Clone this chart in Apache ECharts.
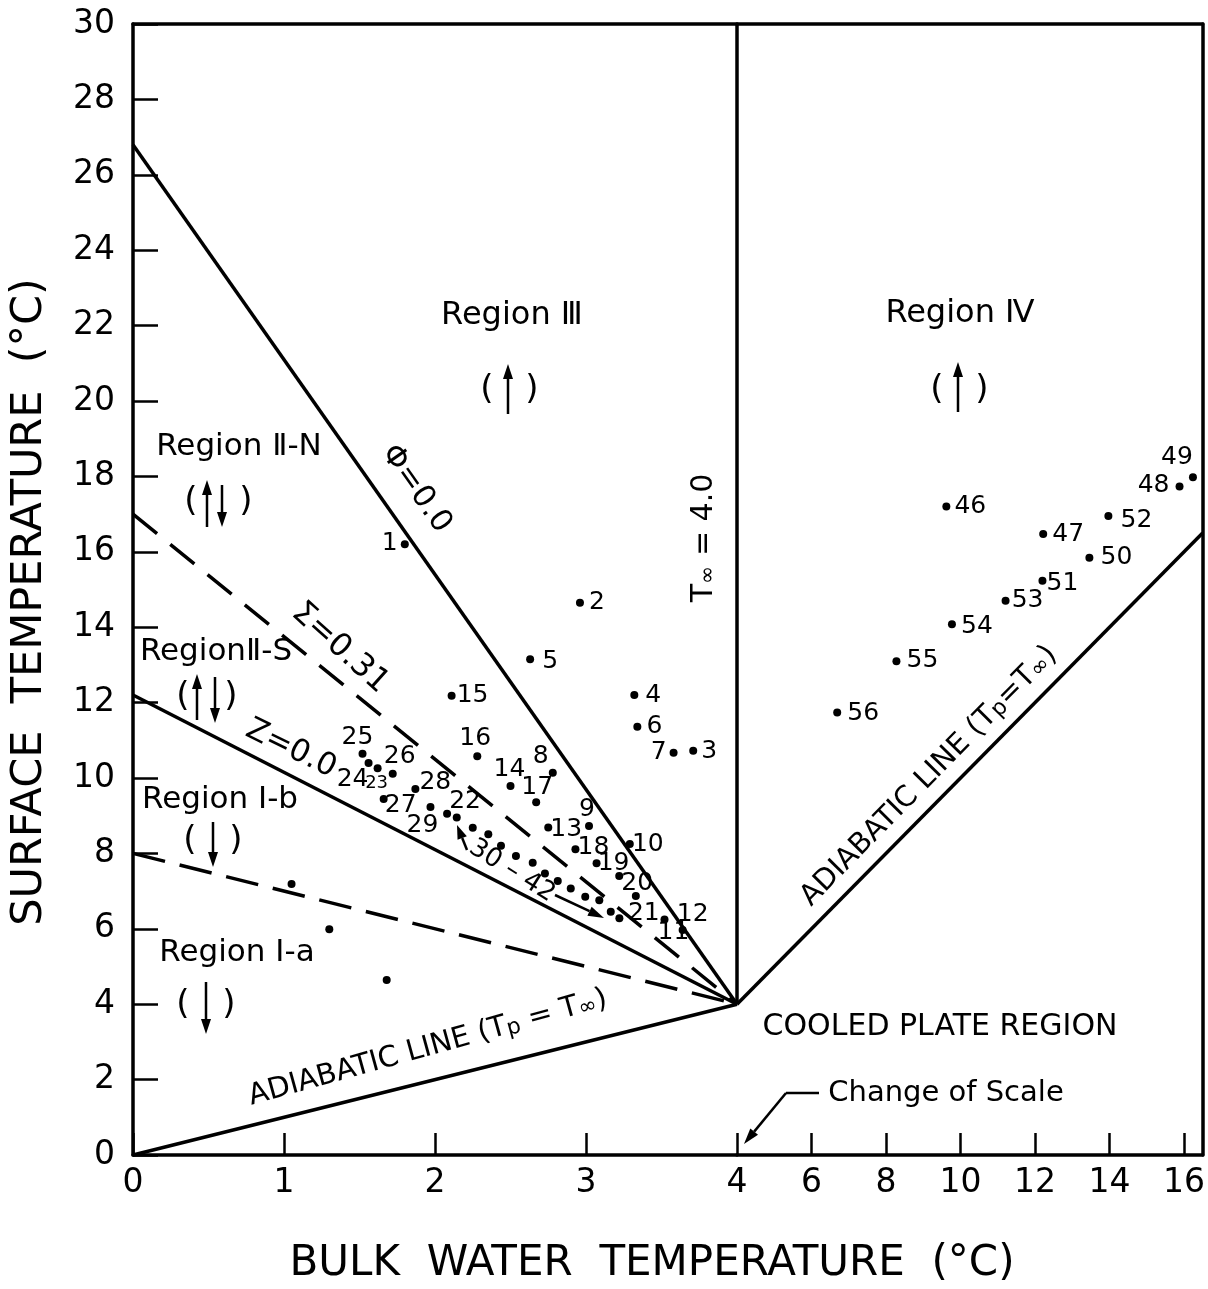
<!DOCTYPE html>
<html>
<head>
<meta charset="utf-8">
<title>Surface vs bulk water temperature</title>
<script src="https://cdn.jsdelivr.net/npm/echarts@6/dist/echarts.min.js"></script>
<style>
  html, body { margin: 0; padding: 0; background: #ffffff; }
  #chart { width: 1208px; height: 1289px; }
</style>
</head>
<body>
<div id="chart"></div>
<script>
// ---- Data ---------------------------------------------------------------
// Boundary lines, [bulk water temperature, surface temperature] in °C
const phiZeroLine   = [[0, 26.8], [4, 4]];
const sigmaLine     = [[0, 17.0], [4, 4]];
const zZeroLine     = [[0, 12.2], [4, 4]];
const regionIbLine  = [[0, 8.0], [4, 4]];
const adiabaticLow  = [[0, 0], [4, 4]];
const tInfinityLine = [[4, 4], [4, 30]];
const adiabaticHigh = [[4, 4], [16.5, 16.5]];

// Numbered runs below the density maximum: [run, bulk °C, surface °C]
const runsLow = [
  [1, 1.80, 16.20], [2, 2.96, 14.65], [3, 3.71, 10.72], [4, 3.32, 12.20],
  [5, 2.63, 13.15], [6, 3.34, 11.36], [7, 3.58, 10.67], [8, 2.78, 10.14],
  [9, 3.02, 8.73],  [10, 3.29, 8.25], [11, 3.52, 6.25], [12, 3.64, 5.97],
  [13, 2.75, 8.69], [14, 2.50, 9.79], [15, 2.11, 12.18], [16, 2.28, 10.58],
  [17, 2.67, 9.36], [18, 2.93, 8.11], [19, 3.07, 7.74], [20, 3.22, 7.40],
  [21, 3.33, 6.87], [22, 2.08, 9.05], [23, 1.62, 10.26], [24, 1.56, 10.40],
  [25, 1.52, 10.64], [26, 1.72, 10.11], [27, 1.66, 9.44], [28, 1.87, 9.71],
  [29, 1.97, 9.23]
];
// Runs 30 to 42 (unlabelled sequence)
const runs30to42 = [
  [30, 2.144, 8.95], [31, 2.250, 8.68], [32, 2.353, 8.51], [33, 2.437, 8.20],
  [34, 2.536, 7.93], [35, 2.647, 7.75], [36, 2.728, 7.47], [37, 2.813, 7.27],
  [38, 2.899, 7.07], [39, 2.995, 6.85], [40, 3.088, 6.76], [41, 3.164, 6.45],
  [42, 3.221, 6.28]
];
// Unnumbered runs in Region I-a / I-b
const regionIRuns = [[1.05, 7.19], [1.30, 5.99], [1.68, 4.64]];
// Runs above 4 °C (compressed scale)
const runsHigh = [
  [46, 9.62, 17.20], [47, 12.22, 16.47], [48, 15.88, 17.73], [49, 16.24, 17.98],
  [50, 13.46, 15.84], [51, 12.20, 15.23], [52, 13.97, 16.95], [53, 11.21, 14.70],
  [54, 9.77, 14.08], [55, 8.28, 13.10], [56, 6.69, 11.74]
];

// ---- Styling --------------------------------------------------------------
const FONT = "'DejaVu Sans', 'Liberation Sans', sans-serif";
const INK = '#000000';
const LINE_W = 3.5;

// Where each run number sits relative to its dot (px)
const labelShift = {
  1: [-15, -1], 2: [17, 0], 3: [16, 1], 4: [19, 0], 5: [20, 2], 6: [17, 0],
  7: [-15, 0], 8: [-12, -16], 9: [-2, -16], 10: [18, 1], 11: [9, 13], 12: [10, -15],
  13: [18, 2], 14: [-1, -16], 15: [21, 0], 16: [-2, -18], 17: [1, -15], 18: [18, -2],
  19: [17, 0], 20: [18, 7], 21: [8, 17], 22: [18, -12], 23: [-1, 15], 24: [-16, 17],
  25: [-5, -16], 26: [7, -17], 27: [17, 6], 28: [20, -6], 29: [-8, 18],
  46: [24, 0], 47: [25, 0], 48: [-26, -1], 49: [-16, -20], 50: [27, 0], 51: [20, 3],
  52: [28, 5], 53: [22, 0], 54: [25, 2], 55: [26, -1], 56: [26, 1]
};

function labelledPoints(runs) {
  return runs.map(([id, x, t]) => ({
    value: [x, t],
    label: {
      show: true,
      formatter: String(id),
      position: 'inside',
      offset: labelShift[id] || [18, 0],
      color: INK,
      opacity: 1,
      fontFamily: FONT,
      fontSize: id === 23 ? 18 : 25
    }
  }));
}

function boundary(data, xi, dashed) {
  return {
    type: 'line', xAxisIndex: xi, yAxisIndex: xi, data,
    symbol: 'none', clip: false, silent: true,
    lineStyle: { color: INK, width: LINE_W, type: dashed || 'solid', cap: 'butt', opacity: 1 },
    z: 3
  };
}

function dots(data, xi) {
  return {
    type: 'scatter', xAxisIndex: xi, yAxisIndex: xi, data,
    symbol: 'circle', symbolSize: 8, clip: false, silent: true,
    itemStyle: { color: INK, opacity: 1 }, z: 4
  };
}

// ---- Annotations ------------------------------------------------------------
const graphics = [];
function txt(x, y, text, size, rotDeg, rich) {
  const style = {
    text, fill: INK, fontSize: size, fontFamily: FONT,
    align: 'center', verticalAlign: 'middle'
  };
  if (rich) style.rich = rich;
  graphics.push({ type: 'text', x, y, rotation: (rotDeg || 0) * Math.PI / 180, style, z: 10 });
}
function arrow(x1, y1, x2, y2, head, halfW) {
  head = head || 15; halfW = halfW || 5;
  const a = Math.atan2(y2 - y1, x2 - x1);
  const bx = x2 - head * Math.cos(a), by = y2 - head * Math.sin(a);
  const px = -Math.sin(a) * halfW, py = Math.cos(a) * halfW;
  graphics.push({ type: 'line', shape: { x1, y1, x2: bx, y2: by },
    style: { stroke: INK, lineWidth: 2.5 }, z: 10 });
  graphics.push({ type: 'polygon', shape: { points: [[x2, y2], [bx + px, by + py], [bx - px, by - py]] },
    style: { fill: INK }, z: 10 });
}
function parens(xl, xr, y) {
  txt(xl, y, '(', 34);
  txt(xr, y, ')', 34);
}

const sub = { fontSize: 22, fontFamily: FONT, verticalAlign: 'bottom', fill: INK };

// Region names and the direction of heat flux
txt(512, 316, 'Region Ⅲ', 32);
parens(487, 532, 390); arrow(508, 414, 508, 364);
txt(960, 314, 'Region Ⅳ', 32);
parens(937, 982, 390); arrow(958, 412, 958, 362);
txt(239, 447, 'Region Ⅱ-N', 31);
parens(191, 246, 502); arrow(207, 527, 207, 480); arrow(222, 485, 222, 527);
txt(216, 652, 'RegionⅡ-S', 31);
parens(183, 231, 697); arrow(197, 720, 197, 674); arrow(215, 677, 215, 723);
txt(220, 800, 'Region Ⅰ-b', 31);
parens(190, 236, 841); arrow(213, 822, 213, 867);
txt(237, 953, 'Region Ⅰ-a', 31);
parens(183, 229, 1005); arrow(206, 982, 206, 1034);

// Line labels
txt(416, 489, 'Φ=0.0', 31, -55);
txt(340, 648, 'Σ=0.31', 32, -42);
txt(291, 749, 'Z=0.0', 31, -26);
txt(704, 538, '{t|T}{s|∞}{t| = 4.0}', 30, 90,
  { t: { fontSize: 30, fontFamily: FONT, fill: INK }, s: sub });
txt(428, 1048, '{t|ADIABATIC LINE (T}{s|p}{t| = T}{s|∞}{t|)}', 29, 15.5,
  { t: { fontSize: 29, fontFamily: FONT, fill: INK }, s: sub });
txt(929, 776, '{t|ADIABATIC LINE (T}{s|p}{t|=T}{s|∞}{t|)}', 29, 45.5,
  { t: { fontSize: 29, fontFamily: FONT, fill: INK }, s: sub });
txt(940, 1027, 'COOLED PLATE REGION', 30);

// Runs 30-42 marker
txt(512, 871, '30 – 42', 26, -32);
arrow(467, 850, 457, 825, 14, 5);
arrow(555, 895, 604, 918, 16, 5);

// Change of scale marker
txt(946, 1093, 'Change of Scale', 29);
graphics.push({ type: 'line', shape: { x1: 819, y1: 1093, x2: 786, y2: 1093 },
  style: { stroke: INK, lineWidth: 2.5 }, z: 10 });
arrow(786, 1093, 744, 1144, 16, 5);

// Axis titles
txt(30, 602, 'SURFACE  TEMPERATURE  (°C)', 43, 90);
txt(652, 1264, 'BULK  WATER  TEMPERATURE  (°C)', 42);

// ---- Axes -------------------------------------------------------------------
const axisLine = { show: true, onZero: false, lineStyle: { color: INK, width: LINE_W } };
const tickLabel = { color: INK, fontFamily: FONT, fontSize: 33 };

const option = {
  animation: false,
  backgroundColor: '#ffffff',
  grid: [
    { left: 133, top: 24, width: 604, height: 1131 },
    { left: 737, top: 24, width: 466, height: 1131 }
  ],
  xAxis: [
    { gridIndex: 0, type: 'value', min: 0, max: 4, interval: 1, position: 'bottom',
      axisLine, splitLine: { show: false },
      axisTick: { show: true, inside: true, length: 22, lineStyle: { color: INK, width: 2.5 } },
      axisLabel: Object.assign({ margin: 12, showMaxLabel: false }, tickLabel) },
    { gridIndex: 1, type: 'value', min: 4, max: 16.5, interval: 2, position: 'bottom',
      axisLine, splitLine: { show: false },
      axisTick: { show: true, inside: true, length: 22, lineStyle: { color: INK, width: 2.5 } },
      axisLabel: Object.assign({ margin: 12, showMaxLabel: false }, tickLabel) },
    { gridIndex: 0, type: 'value', min: 0, max: 4, position: 'top',
      axisLine, axisTick: { show: false }, axisLabel: { show: false }, splitLine: { show: false } },
    { gridIndex: 1, type: 'value', min: 4, max: 16.5, position: 'top',
      axisLine, axisTick: { show: false }, axisLabel: { show: false }, splitLine: { show: false } }
  ],
  yAxis: [
    { gridIndex: 0, type: 'value', min: 0, max: 30, interval: 2, position: 'left',
      axisLine, splitLine: { show: false },
      axisTick: { show: true, inside: true, length: 25, lineStyle: { color: INK, width: 2.5 } },
      axisLabel: Object.assign({ margin: 18 }, tickLabel) },
    { gridIndex: 1, type: 'value', min: 0, max: 30, interval: 2, position: 'right',
      axisLine, splitLine: { show: false }, axisTick: { show: false }, axisLabel: { show: false } }
  ],
  series: [
    boundary(phiZeroLine, 0),
    boundary(sigmaLine, 0, [31, 17]),
    boundary(zZeroLine, 0),
    boundary(regionIbLine, 0, [33, 15]),
    boundary(adiabaticLow, 0),
    boundary(tInfinityLine, 0),
    boundary(adiabaticHigh, 1),
    dots(labelledPoints(runsLow), 0),
    dots(runs30to42.map(r => [r[1], r[2]]), 0),
    dots(regionIRuns, 0),
    dots(labelledPoints(runsHigh), 1)
  ],
  graphic: graphics
};

const chart = echarts.init(document.getElementById('chart'), null, { renderer: 'canvas' });
chart.setOption(option);
</script>
</body>
</html>
